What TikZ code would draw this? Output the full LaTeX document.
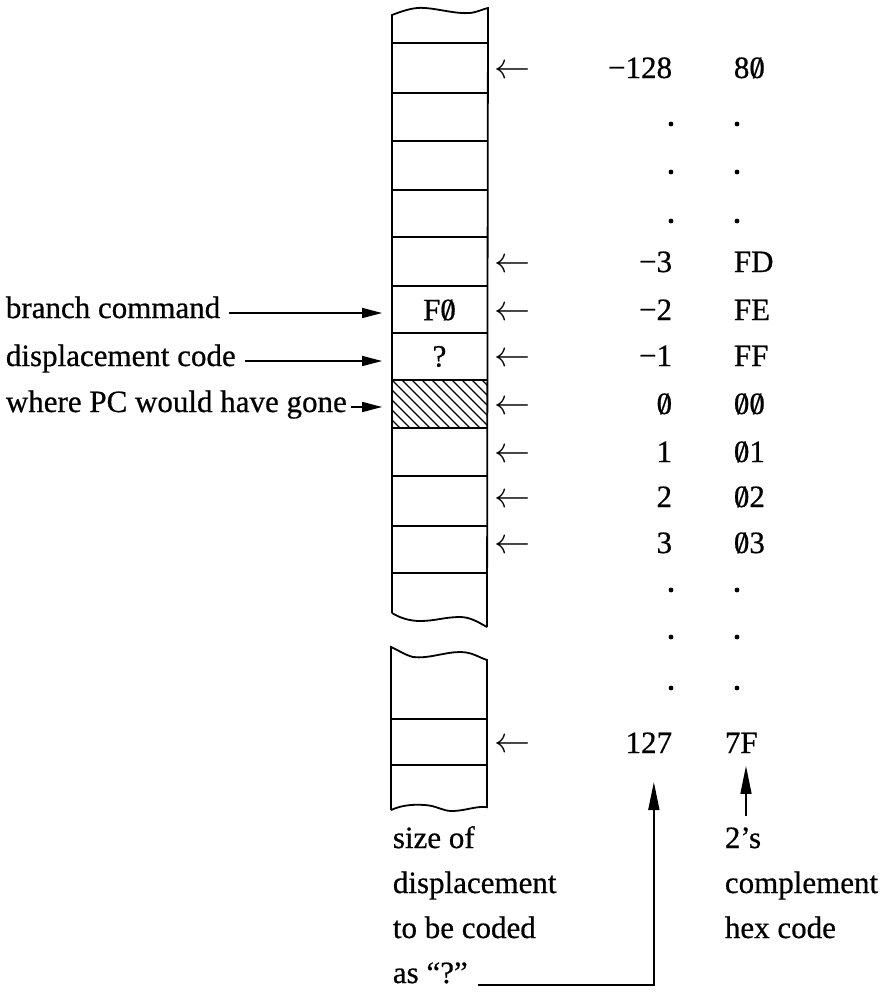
\documentclass[tikz,border=0pt]{standalone}
\usepackage{fontspec}
\setmainfont[FakeBold=0.6]{Liberation Serif}
\usetikzlibrary{arrows.meta,calc}
\newcommand{\zr}{\ooalign{0\cr\hidewidth/\hidewidth\cr}}
\newcommand{\larrow}{\scalebox{1.45}{$\leftarrow$}}
\begin{document}
\begin{tikzpicture}[x=1pt,y=-1pt,line width=1.8pt,
  every node/.style={font=\fontsize{31}{40}\selectfont,inner sep=0pt},
  lbl/.style={anchor=base west},
  num/.style={anchor=base east},
  hexv/.style={anchor=base west},
  larr/.style={anchor=base},
  cellnode/.style={minimum width=95pt,minimum height=46pt},
  ptr/.style={-{Triangle[length=20pt,width=10pt]},line width=1.6pt},
  uptr/.style={-{Triangle[length=28pt,width=11pt]},line width=1.6pt},
  dotm/.style={circle,fill,minimum size=4.8pt,inner sep=0pt}]
\path[use as bounding box,fill=white] (0,0) rectangle (893,997);

% ---- upper part of memory column
\draw (392,613) -- (392,15)
  .. controls (405,10) and (415,7) .. (425,8)
  .. controls (440,9) and (455,14) .. (470,13)
  .. controls (478,12) and (483,9) .. (488,8) -- (487,627);
\draw (392,613) .. controls (400,618) and (410,621) .. (420,621)
  .. controls (435,621) and (445,617) .. (460,617)
  .. controls (470,617) and (478,622) .. (487,627);
\foreach \yy in {43,93,141,190,237,286,333,380,428,476,526,573}
  \draw (392,\yy) -- (487,\yy);
% hatched cell
\begin{scope}
  \clip (392,380) rectangle (487,428);
  \foreach \k in {-50,-40,...,100}
    \draw[line width=1.4pt] (392+\k,380) -- (392+\k+48,428);
\end{scope}
\draw (392,380) -- (487,380);
\draw (392,428) -- (487,428);

% ---- lower part of memory column
\draw (391,810) -- (391,647)
  .. controls (398,650) and (405,655) .. (413,657)
  .. controls (428,659) and (445,652) .. (460,652)
  .. controls (472,652) and (478,657) .. (487,660) -- (487,808);
\draw (391,810) .. controls (400,806) and (410,804) .. (425,805)
  .. controls (438,806) and (442,811) .. (452,811)
  .. controls (465,811) and (475,806) .. (487,807);
\foreach \yy in {719,765}
  \draw (391,\yy) -- (487,\yy);

% ---- cell nodes
\node[cellnode] (f0) at (439.5,310) {F\zr};
\node[cellnode] (qm) at (439.5,356.5) {?};
\node[cellnode] (pc) at (439.5,404) {};

% ---- left labels
\node[lbl] (l1) at (5,318) {branch command};
\node[lbl] (l2) at (5,366) {displacement code};
\node[lbl] (l3) at (5,412) {where PC would have gone};
\draw[ptr] ([xshift=8pt,yshift=5pt]l1.base east) -- ([xshift=-9pt,yshift=5pt]l1.base east -| f0.west);
\draw[ptr] ([xshift=8pt,yshift=5pt]l2.base east) -- ([xshift=-9pt,yshift=5pt]l2.base east -| qm.west);
\draw[ptr] ([xshift=3pt,yshift=5pt]l3.base east) -- ([xshift=-9pt,yshift=5pt]l3.base east -| pc.west);

% ---- right side: arrows, displacements, hex codes
\foreach \yc/\nm/\hx/\id in {68/{−128}/{8\zr}/a, 262/{−3}/FD/b, 310/{−2}/FE/c, 356/{−1}/FF/d,
    404/{\zr}/{\zr\zr}/e, 452/1/{\zr1}/f, 497/2/{\zr2}/g, 543/3/{\zr3}/h}{
  \node[larr] (ar\id) at (513,\yc+10) {\larrow};
  \node[num] (n\id) at (673,\yc+10) {\nm};
  \node[hexv] (h\id) at (733,\yc+10) {\hx};
}
\node[larr] (ari) at (513,752) {\larrow};
\node[num] (n127) at (673,753) {127};
\node[hexv] (n7F) at (724,753) {7F};

% ---- dots
\foreach \yy/\id in {124/a,172/b,221/c,590/d,637/e,688/f}{
  \node[dotm] (dn\id) at (671,\yy) {};
  \node[dotm] (dh\id) at (737,\yy) {};
}

% ---- bottom labels
\node[lbl] (s1) at (392,848) {size of};
\node[lbl] (s2) at (392,893) {displacement};
\node[lbl] (s3) at (392,938) {to be coded};
\node[lbl] (asq) at (392,983) {as “?”};
\node[lbl] (twos) at (724,848) {2’s};
\node[lbl] (t2) at (724,893) {complement};
\node[lbl] (t3) at (724,938) {hex code};

\draw[uptr] ([xshift=9pt,yshift=-2pt]asq.base east) -| ([xshift=5pt,yshift=-29pt]n127.base);
\coordinate (u7s) at ([xshift=3pt,yshift=10pt]twos.north);
\coordinate (u7t) at ([yshift=-12pt]n7F.south);
\draw[uptr] (u7s) -- (u7s |- u7t);
\end{tikzpicture}
\end{document}
